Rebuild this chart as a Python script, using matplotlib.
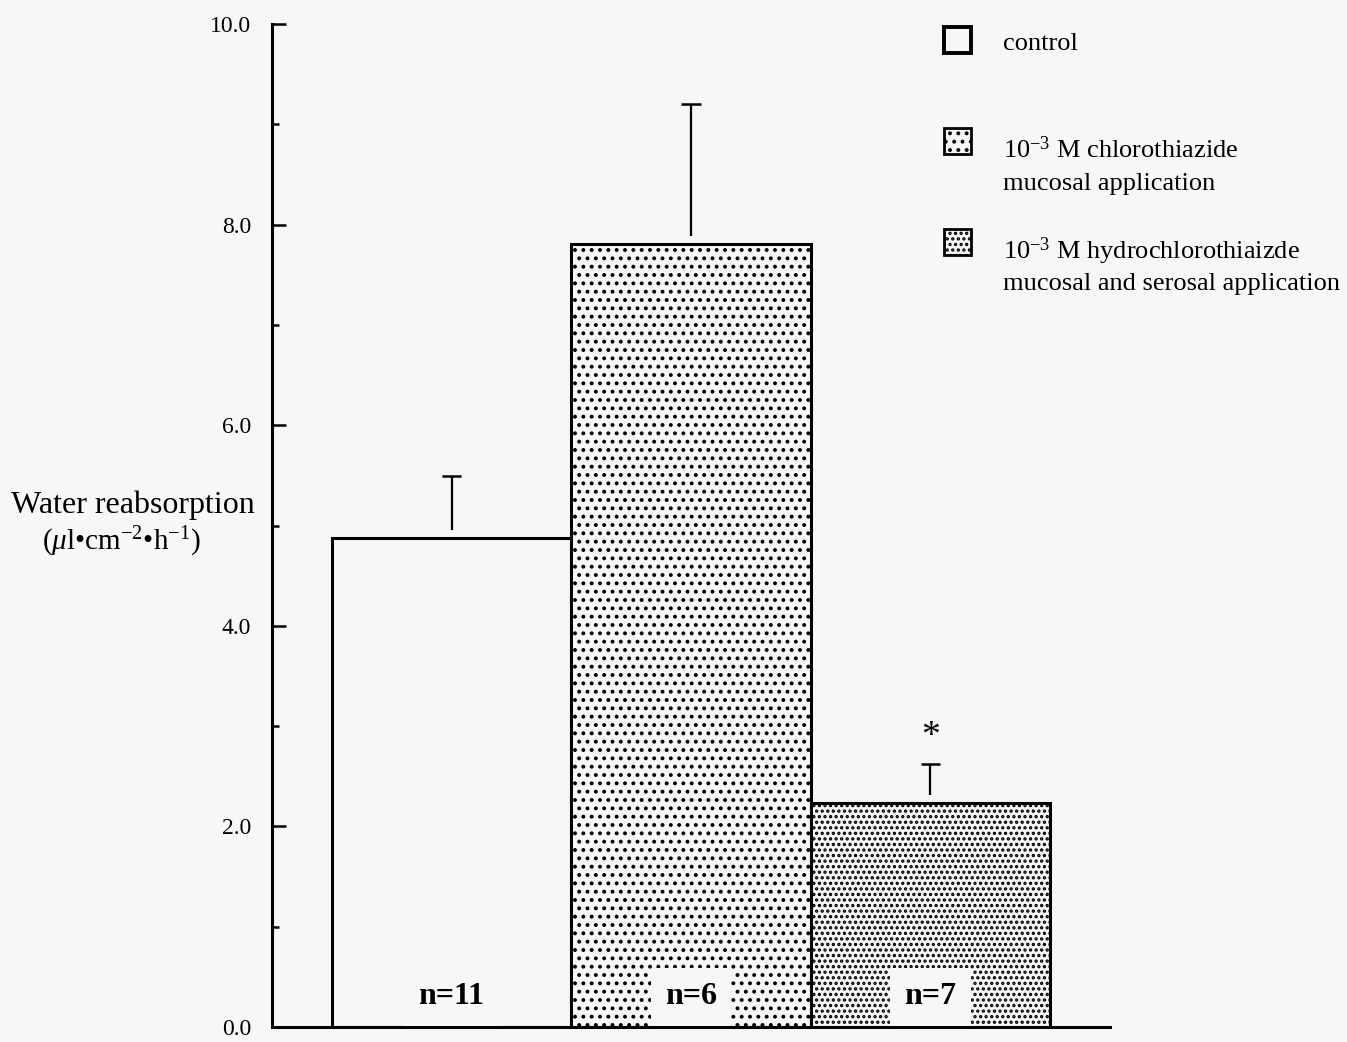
import numpy as np
import matplotlib
matplotlib.use("Agg")
import matplotlib.pyplot as plt
from matplotlib.patches import Rectangle

plt.rcParams['font.family'] = ['Liberation Serif', 'DejaVu Serif']
plt.rcParams['mathtext.fontset'] = 'custom'
plt.rcParams['mathtext.rm'] = 'Liberation Serif'
plt.rcParams['mathtext.it'] = 'Liberation Serif:italic'
plt.rcParams['mathtext.bf'] = 'Liberation Serif:bold'
plt.rcParams['hatch.linewidth'] = 1.6

# data
groups = ['control', 'chlorothiazide', 'hydrochlorothiazide']
values = [4.88, 7.81, 2.23]
errors = [0.61, 1.39, 0.39]
n_labels = ['n=11', 'n=6', 'n=7']
hatches = ['', '..', '...']
legend_lines = [['control'],
                ['10$^{-3}$ M chlorothiazide', 'mucosal application'],
                ['10$^{-3}$ M hydrochlorothiaizde', 'mucosal and serosal application']]
yticks = [0, 2, 4, 6, 8, 10]

W, H = 1347, 1042
bg = '#f7f7f7'
fig = plt.figure(figsize=(W / 100, H / 100), dpi=100, facecolor=bg)
ax = fig.add_axes([272 / W, 15 / H, (1110 - 272) / W, (1027 - 24) / H], facecolor=bg)

x = np.arange(len(values))
vals = np.array(values)
tops = vals + np.array(errors)
ax.bar(x, vals, width=1.0, color=bg, edgecolor='black', linewidth=2.2,
       hatch=hatches, zorder=2)

# error bars: upper only, starting slightly above the bar, cap on top
gap = 0.08
ax.vlines(x, vals + gap, tops, color='black', linewidth=1.6, zorder=3)
ax.hlines(tops, x - 0.04, x + 0.04, color='black', linewidth=1.8, zorder=3)

for xi, lab in zip(x, n_labels):
    ax.text(xi, 0.3, lab, ha='center', va='center', fontsize=23, fontweight='bold',
            bbox=dict(boxstyle='square,pad=0.45', facecolor=bg, edgecolor='none'), zorder=4)

ax.text(x[2], tops[2] + 0.27, '*', ha='center', va='center', fontsize=27)

ax.set_xlim(-0.75, 2.75)
ax.set_ylim(0, 10)
ax.set_yticks(yticks)
ax.set_yticklabels(['%.1f' % t for t in yticks], fontsize=17)
ax.set_yticks([1, 3, 5, 7, 9], minor=True)
ax.tick_params(axis='y', which='major', direction='in', length=10, width=1.8, pad=15)
ax.tick_params(axis='y', which='minor', direction='in', length=5, width=1.8)
ax.set_xticks([])
for s in ['top', 'right']:
    ax.spines[s].set_visible(False)
for s in ['left', 'bottom']:
    ax.spines[s].set_linewidth(2.2)

# y label
fig.text(133 / W, 1 - 513 / H, 'Water reabsorption', ha='center', va='baseline', fontsize=23)
fig.text(121 / W, 1 - 550 / H, r'($\mu$l•cm$^{-2}$•h$^{-1}$)', ha='center', va='baseline',
         fontsize=21)

# legend
box_y = [40, 141, 242]
line_base = [[50], [158, 190], [259, 290]]
box_lw = [2.8, 2.0, 2.0]
for by, hs, lw, lines, bases in zip(box_y, hatches, box_lw, legend_lines, line_base):
    fig.add_artist(Rectangle((944 / W, 1 - (by + 13) / H), 27 / W, 26 / H,
                             transform=fig.transFigure, facecolor=bg, edgecolor='black',
                             linewidth=lw, hatch=hs))
    for txt, b in zip(lines, bases):
        fig.text(1003 / W, 1 - b / H, txt, ha='left', va='baseline', fontsize=19)

fig.savefig('out.png', dpi=100, facecolor=bg)
